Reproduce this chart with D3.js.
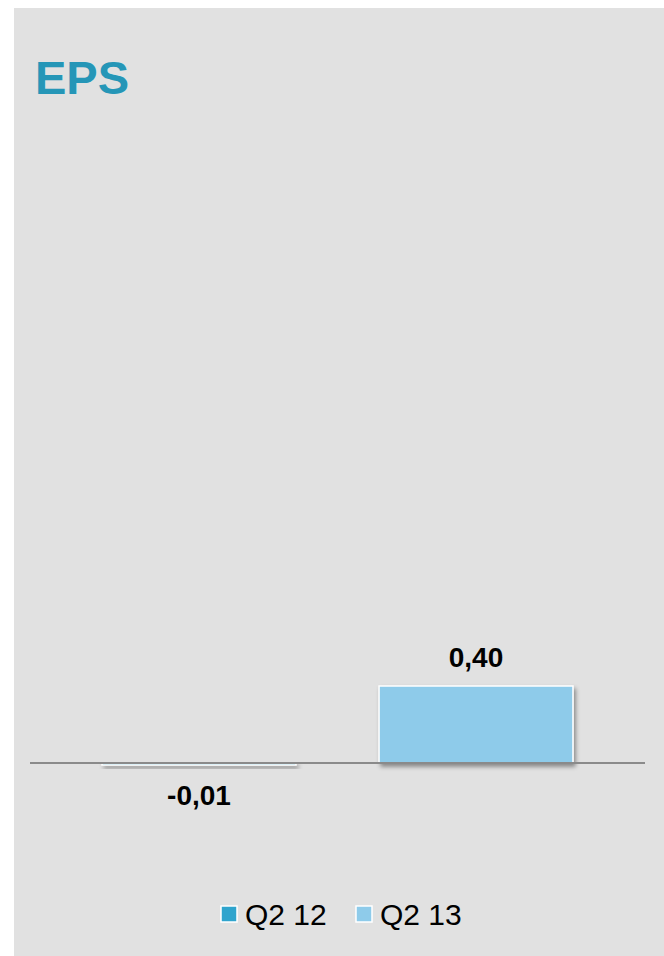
<!DOCTYPE html>
<html>
<head>
<meta charset="utf-8">
<script src="https://cdn.jsdelivr.net/npm/d3@7"></script>
<style>
  html, body { margin: 0; padding: 0; background: #ffffff; }
  svg { display: block; }
</style>
</head>
<body>
<svg id="chart" width="664" height="956"></svg>
<script>
// EPS per quarter
const categories = ["Q2 12", "Q2 13"];
const values = [-0.01, 0.40];
const valueLabels = ["-0,01", "0,40"];
const colors = ["#2fa4cd", "#8ecbea"];

const W = 664, H = 956;
const svg = d3.select("#chart");

// shadow used on the bars
const defs = svg.append("defs");
const f = defs.append("filter").attr("id", "shadow")
  .attr("x", "-10%").attr("y", "-10%").attr("width", "130%").attr("height", "300%");
f.append("feDropShadow").attr("dx", 2).attr("dy", 3).attr("stdDeviation", 2.2)
  .attr("flood-color", "#000").attr("flood-opacity", 0.4);

// panel
svg.append("rect").attr("x", 14).attr("y", 8).attr("width", W - 14).attr("height", H - 8)
  .attr("fill", "#e1e1e1");

// title
svg.append("text").attr("x", 35).attr("y", 94)
  .attr("font-family", "Liberation Sans, Arial, sans-serif")
  .attr("font-weight", "bold").attr("font-size", 47)
  .attr("fill", "#2596b7").text("EPS");

// scales
const x = d3.scaleBand().domain(categories).range([30, 645]).paddingInner(0.3).paddingOuter(0.26);
const y = d3.scaleLinear().domain([0, 0.40]).range([763, 686]);

// bars
svg.selectAll("rect.bar").data(values).enter().append("rect")
  .attr("class", "bar")
  .attr("x", (d, i) => x(categories[i]))
  .attr("width", x.bandwidth())
  .attr("y", d => Math.min(y(d), y(0)))
  .attr("height", d => Math.max(Math.abs(y(d) - y(0)), 1.5))
  .attr("fill", (d, i) => colors[i])
  .attr("stroke", "#ffffff").attr("stroke-width", 1.5)
  .attr("filter", "url(#shadow)");

// zero axis line
svg.append("line").attr("x1", 30).attr("x2", 645).attr("y1", y(0)).attr("y2", y(0))
  .attr("stroke", "#8a8a8a").attr("stroke-width", 2);

// value labels
svg.selectAll("text.val").data(values).enter().append("text")
  .attr("class", "val")
  .attr("x", (d, i) => x(categories[i]) + x.bandwidth() / 2)
  .attr("y", d => d >= 0 ? y(d) - 19 : y(d) + 40)
  .attr("text-anchor", "middle")
  .attr("font-family", "Liberation Sans, Arial, sans-serif")
  .attr("font-weight", "bold").attr("font-size", 28)
  .attr("fill", "#000").text((d, i) => valueLabels[i]);

// legend
const legendX = [221, 356];
const lg = svg.selectAll("g.leg").data(categories).enter().append("g")
  .attr("class", "leg")
  .attr("transform", (d, i) => `translate(${legendX[i]},906)`);
lg.append("rect").attr("width", 16).attr("height", 16)
  .attr("fill", (d, i) => colors[i]).attr("stroke", "#ffffff").attr("stroke-width", 1.5);
lg.append("text").attr("x", 24).attr("y", 19)
  .attr("font-family", "Liberation Sans, Arial, sans-serif")
  .attr("font-size", 30).attr("fill", "#000").text(d => d);
</script>
</body>
</html>
